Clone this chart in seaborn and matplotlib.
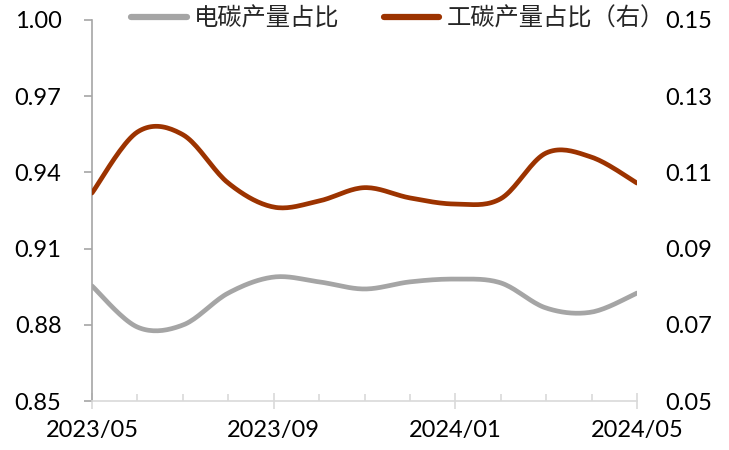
import numpy as np
import pandas as pd
import matplotlib
matplotlib.use("Agg")
import matplotlib.pyplot as plt
from matplotlib.lines import Line2D
import seaborn as sns

# ---- data ----
months = ["2023/05", "2023/06", "2023/07", "2023/08", "2023/09", "2023/10", "2023/11",
          "2023/12", "2024/01", "2024/02", "2024/03", "2024/04", "2024/05"]
elec_share = [0.8953, 0.8791, 0.8799, 0.8925, 0.8988, 0.8969, 0.8941,
              0.8969, 0.8980, 0.8965, 0.8866, 0.8850, 0.8925]
ind_share = [0.1046, 0.1206, 0.1199, 0.1072, 0.1009, 0.1025, 0.1060,
             0.1033, 0.1017, 0.1031, 0.1151, 0.1140, 0.1072]
tick_labels = ["2023/05", "2023/09", "2024/01", "2024/05"]
left_ticks = [0.85, 0.88, 0.91, 0.94, 0.97, 1.00]
right_ticks = [0.05, 0.07, 0.09, 0.11, 0.13, 0.15]
name_elec = "电碳产量占比"
name_ind = "工碳产量占比（右）"

GREY = "#A5A5A5"
RED = "#9C3300"


def smooth(x, y, n=20):
    """Render-only Catmull-Rom (Excel-style smoothed line) through the data points."""
    x = np.asarray(x, float); y = np.asarray(y, float)
    xs, ys = [], []
    m = len(x)
    for i in range(m - 1):
        p0 = i - 1 if i > 0 else i
        p3 = i + 2 if i + 2 < m else i + 1
        t = np.linspace(0, 1, n, endpoint=False)
        for arr, out in ((x, xs), (y, ys)):
            P0, P1, P2, P3 = arr[p0], arr[i], arr[i + 1], arr[p3]
            c1 = P1 + (P2 - P0) / 6
            c2 = P2 - (P3 - P1) / 6
            out.extend((1 - t) ** 3 * P1 + 3 * (1 - t) ** 2 * t * c1 + 3 * (1 - t) * t ** 2 * c2 + t ** 3 * P2)
    xs.append(x[-1]); ys.append(y[-1])
    return np.array(xs), np.array(ys)


sns.set_theme(style="white")
plt.rcParams["font.family"] = ["Lato", "Noto Sans CJK SC", "DejaVu Sans"]

fig = plt.figure(figsize=(7.29, 4.5), dpi=100)
ax = fig.add_axes([92 / 729, 49 / 450, 545 / 729, 381 / 450])
ax2 = ax.twinx()

idx = np.arange(len(months))
ex, ey = smooth(idx, elec_share)
rx, ry = smooth(idx, ind_share)
sns.lineplot(x=ex, y=ey, ax=ax, color=GREY, lw=3.4, sort=False, legend=False)
sns.lineplot(x=rx, y=ry, ax=ax2, color=RED, lw=3.4, sort=False, legend=False)
for l in ax.lines + ax2.lines:
    l.set_solid_capstyle("round")

ax.set_xlim(0, len(months) - 1)
ax.set_ylim(0.85, 1.00)
ax2.set_ylim(0.05, 0.15)

FS = 17
ax.set_yticks(left_ticks)
ax.set_yticklabels([f"{v:.2f}" for v in left_ticks], fontsize=FS)
ax2.set_yticks(right_ticks)
ax2.set_yticklabels([f"{v:.2f}" for v in right_ticks], fontsize=FS)

major_pos = [months.index(m) for m in tick_labels]
ax.set_xticks(major_pos)
ax.set_xticklabels(tick_labels, fontsize=FS)
ax.set_xticks(idx, minor=True)

for a in (ax, ax2):
    for s in a.spines.values():
        s.set_visible(False)
ax.spines["left"].set_visible(True)
ax.spines["left"].set_color("#A6A6A6")
ax.spines["left"].set_linewidth(1.2)
ax.spines["bottom"].set_visible(True)
ax.spines["bottom"].set_color("#D9D9D9")
ax.spines["bottom"].set_linewidth(1.2)

ax.tick_params(axis="y", which="major", left=True, direction="out", length=6, width=1.2,
               color="#A6A6A6", pad=16, labelcolor="black")
ax.tick_params(axis="x", which="major", bottom=True, direction="inout", length=12, width=1.2,
               color="#D9D9D9", pad=8, labelcolor="black")
ax.tick_params(axis="x", which="minor", bottom=True, direction="in", length=5, width=1.2,
               color="#D9D9D9")
ax2.tick_params(axis="y", right=False, length=0, pad=20, labelcolor="black")
ax.grid(False); ax2.grid(False)

handles = [Line2D([0], [0], color=GREY, lw=4.5, solid_capstyle="round"),
           Line2D([0], [0], color=RED, lw=4.5, solid_capstyle="round")]
leg = fig.legend(handles, [name_elec, name_ind], loc="center", bbox_to_anchor=(398 / 729, 1 - 19 / 450),
                 ncol=2, frameon=False, fontsize=17.5, handlelength=2.3, handletextpad=0.3,
                 columnspacing=1.8, borderaxespad=0, borderpad=0)
for t in leg.get_texts():
    t.set_family(["Noto Sans CJK SC", "DejaVu Sans"])
    t.set_color("#262626")

fig.savefig("out.png", dpi=100)
